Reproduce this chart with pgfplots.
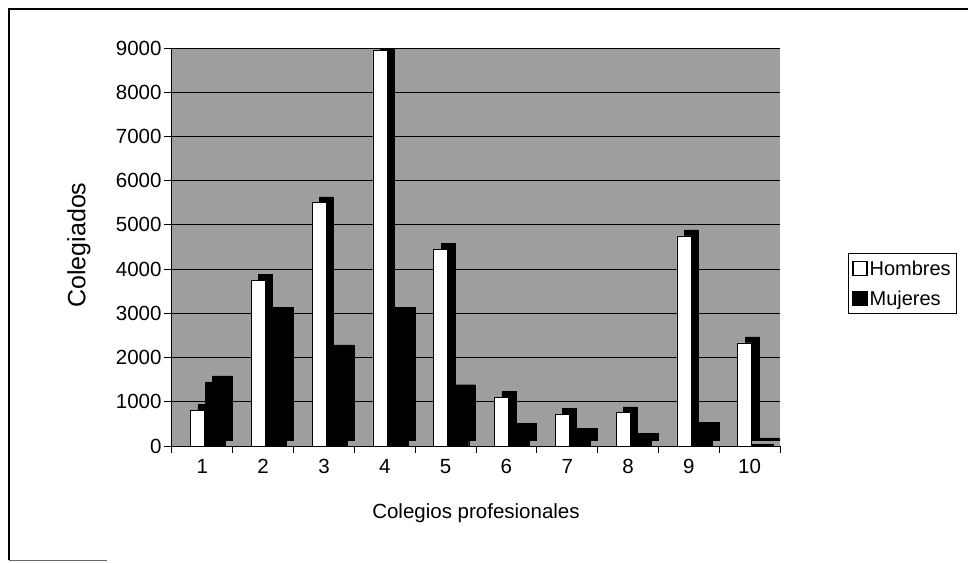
\documentclass[border=0pt]{standalone}
\usepackage{pgfplots}
\pgfplotsset{compat=1.18}
\usepackage{fontspec}
\setmainfont{Liberation Sans}
\pgfplotstableread{
cat H M
1 800 1450
2 3750 3000
3 5500 2150
4 8950 3000
5 4450 1250
6 1100 380
7 720 270
8 750 150
9 4750 400
10 2330 50
}\datatab
\begin{document}
\begin{tikzpicture}
\path[use as bounding box] (-172pt,-116pt) rectangle (796pt,446pt);
\draw[line width=1.2pt] (-163pt,-114pt) -- (-163pt,437pt) -- (796pt,437pt);
\draw[line width=0.8pt, black!60] (-163pt,-114pt) -- (-65pt,-114pt);
\begin{axis}[
  at={(0pt,0pt)}, anchor=south west,
  scale only axis, width=608pt, height=398pt,
  xmin=0.5, xmax=10.5, ymin=0, ymax=9000,
  axis x line*=bottom, axis y line*=left,
  axis line style={black, line width=1pt},
  axis background/.style={fill=black!38},
  ymajorgrids, grid style={black, line width=1pt},
  ytick={0,1000,...,9000},
  xtick={1,...,10},
  minor xtick={0.5,1.5,...,10.5},
  tick align=outside,
  x tick style={draw=none},
  minor x tick style={draw=black, line width=1pt},
  minor tick length=7pt,
  y tick style={black, line width=1pt},
  major tick length=8pt,
  /pgf/number format/assume math mode=true,
  /pgf/number format/set thousands separator={},
  tick label style={font=\fontsize{20.5}{23}\selectfont},
  xticklabel style={yshift=-2pt},
  yticklabel style={xshift=1pt},
  xlabel={Colegios profesionales},
  ylabel={Colegiados},
  xlabel style={font=\fontsize{20.5}{23}\selectfont, at={(axis description cs:0.5,-0.168)}, anchor=center},
  ylabel style={font=\fontsize{25}{28}\selectfont, at={(axis description cs:-0.153,0.505)}, anchor=center},
  legend style={at={(1.112,0.484)}, anchor=north west, draw=black, line width=0.6pt,
    font=\fontsize{20}{22}\selectfont, inner xsep=4pt, inner ysep=5pt, row sep=10pt},
  legend cell align=left,
  legend image code/.code={\draw[#1, line width=1.2pt] (0pt,-7pt) rectangle (14pt,7pt);},
]
\addplot[ybar, bar width=0.23, bar shift=0.04, fill=black, draw=black, yshift=6pt, forget plot] table[x=cat,y=H]{\datatab};
\addplot[ybar, bar width=0.23, bar shift=-0.08, fill=white, draw=black, line width=0.8pt] table[x=cat,y=H]{\datatab};
\addlegendentry{Hombres}
\addplot[ybar, bar width=0.33, bar shift=0.33, fill=black, draw=black, yshift=6pt, forget plot] table[x=cat,y=M]{\datatab};
\addplot[ybar, bar width=0.33, bar shift=0.215, fill=black, draw=black] table[x=cat,y=M]{\datatab};
\addlegendentry{Mujeres}
\end{axis}
\end{tikzpicture}
\end{document}
